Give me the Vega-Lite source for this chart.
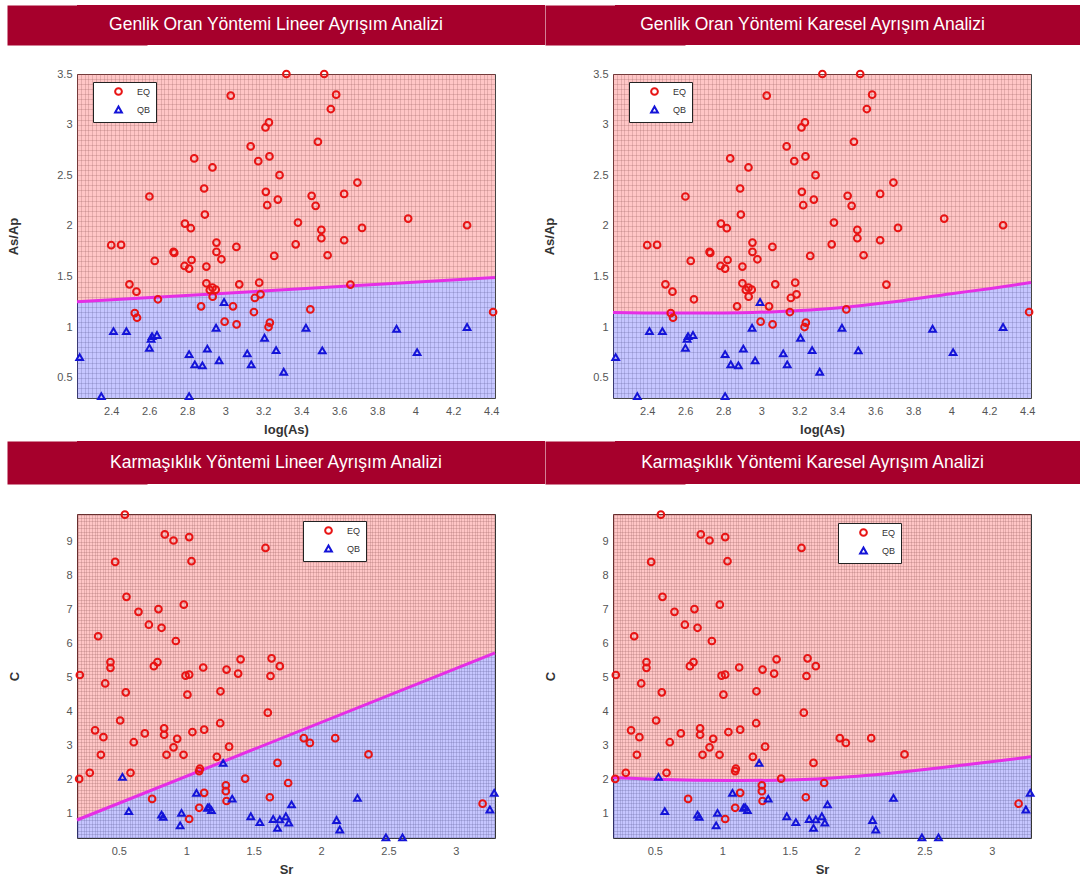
{
  "$schema": "https://vega.github.io/schema/vega-lite/v6.json",
  "padding": {"left": 7, "top": 5, "right": 4, "bottom": 4},
  "background": "white",
  "config": {
    "font": "Liberation Sans",
    "axis": {"labelFontSize": 11, "labelColor": "#555", "titleFontSize": 13, "titleFontWeight": "bold", "titleColor": "#333", "ticks": false, "domain": false, "grid": true, "gridColor": "#777", "gridOpacity": 0.38, "gridWidth": 0.7, "labelOverlap": false, "labelBound": false}
  },
  "datasets": {
    "top": [
      {"x":3.322,"y":3.5,"type":"EQ"},{"x":3.521,"y":3.5,"type":"EQ"},{"x":3.029,"y":3.286,"type":"EQ"},{"x":3.584,"y":3.296,"type":"EQ"},{"x":3.556,"y":3.154,"type":"EQ"},{"x":3.23,"y":3.022,"type":"EQ"},{"x":3.212,"y":2.972,"type":"EQ"},{"x":3.134,"y":2.785,"type":"EQ"},{"x":3.488,"y":2.831,"type":"EQ"},{"x":2.837,"y":2.666,"type":"EQ"},{"x":3.174,"y":2.639,"type":"EQ"},{"x":3.233,"y":2.686,"type":"EQ"},{"x":2.933,"y":2.577,"type":"EQ"},{"x":3.286,"y":2.501,"type":"EQ"},{"x":2.601,"y":2.29,"type":"EQ"},{"x":2.889,"y":2.369,"type":"EQ"},{"x":3.214,"y":2.336,"type":"EQ"},{"x":3.221,"y":2.204,"type":"EQ"},{"x":3.277,"y":2.26,"type":"EQ"},{"x":3.455,"y":2.297,"type":"EQ"},{"x":3.476,"y":2.198,"type":"EQ"},{"x":3.626,"y":2.316,"type":"EQ"},{"x":3.696,"y":2.428,"type":"EQ"},{"x":2.893,"y":2.112,"type":"EQ"},{"x":2.788,"y":2.023,"type":"EQ"},{"x":2.819,"y":1.977,"type":"EQ"},{"x":3.383,"y":2.033,"type":"EQ"},{"x":3.506,"y":1.96,"type":"EQ"},{"x":3.506,"y":1.878,"type":"EQ"},{"x":3.963,"y":2.072,"type":"EQ"},{"x":4.273,"y":2.006,"type":"EQ"},{"x":3.72,"y":1.98,"type":"EQ"},{"x":3.626,"y":1.858,"type":"EQ"},{"x":2.4,"y":1.809,"type":"EQ"},{"x":2.452,"y":1.812,"type":"EQ"},{"x":2.954,"y":1.835,"type":"EQ"},{"x":2.954,"y":1.743,"type":"EQ"},{"x":3.059,"y":1.792,"type":"EQ"},{"x":2.728,"y":1.743,"type":"EQ"},{"x":2.732,"y":1.733,"type":"EQ"},{"x":3.371,"y":1.818,"type":"EQ"},{"x":2.98,"y":1.67,"type":"EQ"},{"x":2.629,"y":1.654,"type":"EQ"},{"x":2.823,"y":1.663,"type":"EQ"},{"x":2.786,"y":1.604,"type":"EQ"},{"x":2.81,"y":1.578,"type":"EQ"},{"x":2.901,"y":1.598,"type":"EQ"},{"x":3.258,"y":1.703,"type":"EQ"},{"x":3.539,"y":1.71,"type":"EQ"},{"x":2.496,"y":1.423,"type":"EQ"},{"x":2.533,"y":1.35,"type":"EQ"},{"x":2.901,"y":1.433,"type":"EQ"},{"x":2.933,"y":1.39,"type":"EQ"},{"x":2.919,"y":1.367,"type":"EQ"},{"x":2.95,"y":1.37,"type":"EQ"},{"x":2.934,"y":1.301,"type":"EQ"},{"x":3.074,"y":1.423,"type":"EQ"},{"x":3.179,"y":1.439,"type":"EQ"},{"x":3.186,"y":1.324,"type":"EQ"},{"x":3.156,"y":1.288,"type":"EQ"},{"x":3.659,"y":1.42,"type":"EQ"},{"x":2.646,"y":1.275,"type":"EQ"},{"x":2.873,"y":1.205,"type":"EQ"},{"x":3.041,"y":1.205,"type":"EQ"},{"x":3.151,"y":1.149,"type":"EQ"},{"x":3.448,"y":1.175,"type":"EQ"},{"x":2.524,"y":1.139,"type":"EQ"},{"x":2.536,"y":1.093,"type":"EQ"},{"x":2.997,"y":1.054,"type":"EQ"},{"x":3.06,"y":1.027,"type":"EQ"},{"x":3.235,"y":1.044,"type":"EQ"},{"x":3.228,"y":1.001,"type":"EQ"},{"x":4.41,"y":1.149,"type":"EQ"},
      {"x":2.234,"y":0.704,"type":"QB"},{"x":2.348,"y":0.318,"type":"QB"},{"x":2.412,"y":0.961,"type":"QB"},{"x":2.48,"y":0.961,"type":"QB"},{"x":2.615,"y":0.912,"type":"QB"},{"x":2.641,"y":0.922,"type":"QB"},{"x":2.601,"y":0.796,"type":"QB"},{"x":2.61,"y":0.885,"type":"QB"},{"x":2.81,"y":0.734,"type":"QB"},{"x":2.84,"y":0.632,"type":"QB"},{"x":2.88,"y":0.622,"type":"QB"},{"x":2.906,"y":0.787,"type":"QB"},{"x":2.81,"y":0.318,"type":"QB"},{"x":2.952,"y":0.994,"type":"QB"},{"x":2.968,"y":0.671,"type":"QB"},{"x":2.994,"y":1.248,"type":"QB"},{"x":3.116,"y":0.74,"type":"QB"},{"x":3.137,"y":0.632,"type":"QB"},{"x":3.207,"y":0.895,"type":"QB"},{"x":3.268,"y":0.773,"type":"QB"},{"x":3.308,"y":0.559,"type":"QB"},{"x":3.425,"y":0.994,"type":"QB"},{"x":3.511,"y":0.77,"type":"QB"},{"x":3.902,"y":0.984,"type":"QB"},{"x":4.01,"y":0.754,"type":"QB"},{"x":4.273,"y":1.001,"type":"QB"}
    ],
    "bot": [
      {"x":0.545,"y":9.8,"type":"EQ"},{"x":0.841,"y":9.22,"type":"EQ"},{"x":0.906,"y":9.04,"type":"EQ"},{"x":1.022,"y":9.14,"type":"EQ"},{"x":1.588,"y":8.82,"type":"EQ"},{"x":0.473,"y":8.41,"type":"EQ"},{"x":1.039,"y":8.43,"type":"EQ"},{"x":0.557,"y":7.38,"type":"EQ"},{"x":0.646,"y":6.94,"type":"EQ"},{"x":0.794,"y":7.02,"type":"EQ"},{"x":0.982,"y":7.15,"type":"EQ"},{"x":0.723,"y":6.56,"type":"EQ"},{"x":0.817,"y":6.47,"type":"EQ"},{"x":0.347,"y":6.22,"type":"EQ"},{"x":0.923,"y":6.08,"type":"EQ"},{"x":0.438,"y":5.46,"type":"EQ"},{"x":0.438,"y":5.29,"type":"EQ"},{"x":0.76,"y":5.34,"type":"EQ"},{"x":0.787,"y":5.46,"type":"EQ"},{"x":0.211,"y":5.08,"type":"EQ"},{"x":0.399,"y":4.83,"type":"EQ"},{"x":0.995,"y":5.06,"type":"EQ"},{"x":1.022,"y":5.09,"type":"EQ"},{"x":1.126,"y":5.3,"type":"EQ"},{"x":1.299,"y":5.24,"type":"EQ"},{"x":1.385,"y":5.12,"type":"EQ"},{"x":1.403,"y":5.54,"type":"EQ"},{"x":1.633,"y":5.57,"type":"EQ"},{"x":1.694,"y":5.34,"type":"EQ"},{"x":1.625,"y":5.05,"type":"EQ"},{"x":0.552,"y":4.57,"type":"EQ"},{"x":1.009,"y":4.5,"type":"EQ"},{"x":1.254,"y":4.6,"type":"EQ"},{"x":1.605,"y":3.97,"type":"EQ"},{"x":0.51,"y":3.74,"type":"EQ"},{"x":0.324,"y":3.45,"type":"EQ"},{"x":0.386,"y":3.25,"type":"EQ"},{"x":0.367,"y":2.73,"type":"EQ"},{"x":0.693,"y":3.36,"type":"EQ"},{"x":0.611,"y":3.1,"type":"EQ"},{"x":0.836,"y":3.51,"type":"EQ"},{"x":0.836,"y":3.32,"type":"EQ"},{"x":0.933,"y":3.2,"type":"EQ"},{"x":0.906,"y":2.95,"type":"EQ"},{"x":0.854,"y":2.73,"type":"EQ"},{"x":0.98,"y":2.73,"type":"EQ"},{"x":1.046,"y":3.4,"type":"EQ"},{"x":1.133,"y":3.47,"type":"EQ"},{"x":1.252,"y":3.66,"type":"EQ"},{"x":1.318,"y":2.97,"type":"EQ"},{"x":1.227,"y":2.67,"type":"EQ"},{"x":0.206,"y":2.02,"type":"EQ"},{"x":0.285,"y":2.2,"type":"EQ"},{"x":0.587,"y":2.2,"type":"EQ"},{"x":1.101,"y":2.32,"type":"EQ"},{"x":1.096,"y":2.25,"type":"EQ"},{"x":1.437,"y":2.03,"type":"EQ"},{"x":1.677,"y":2.49,"type":"EQ"},{"x":1.756,"y":1.9,"type":"EQ"},{"x":0.747,"y":1.43,"type":"EQ"},{"x":1.133,"y":1.61,"type":"EQ"},{"x":1.096,"y":1.17,"type":"EQ"},{"x":1.022,"y":0.84,"type":"EQ"},{"x":1.294,"y":1.83,"type":"EQ"},{"x":1.294,"y":1.66,"type":"EQ"},{"x":1.299,"y":1.37,"type":"EQ"},{"x":1.62,"y":1.48,"type":"EQ"},{"x":1.872,"y":3.22,"type":"EQ"},{"x":1.917,"y":3.08,"type":"EQ"},{"x":2.105,"y":3.22,"type":"EQ"},{"x":2.352,"y":2.74,"type":"EQ"},{"x":3.198,"y":1.29,"type":"EQ"},
      {"x":0.527,"y":2.08,"type":"QB"},{"x":0.574,"y":1.07,"type":"QB"},{"x":0.817,"y":0.97,"type":"QB"},{"x":0.829,"y":0.9,"type":"QB"},{"x":0.965,"y":1.02,"type":"QB"},{"x":0.955,"y":0.65,"type":"QB"},{"x":1.076,"y":1.61,"type":"QB"},{"x":1.158,"y":1.17,"type":"QB"},{"x":1.187,"y":1.1,"type":"QB"},{"x":1.17,"y":1.19,"type":"QB"},{"x":1.274,"y":2.49,"type":"QB"},{"x":1.341,"y":1.44,"type":"QB"},{"x":1.479,"y":0.92,"type":"QB"},{"x":1.546,"y":0.75,"type":"QB"},{"x":1.645,"y":0.84,"type":"QB"},{"x":1.677,"y":0.58,"type":"QB"},{"x":1.694,"y":0.83,"type":"QB"},{"x":1.739,"y":0.92,"type":"QB"},{"x":1.761,"y":0.73,"type":"QB"},{"x":1.781,"y":1.27,"type":"QB"},{"x":2.115,"y":0.81,"type":"QB"},{"x":2.139,"y":0.53,"type":"QB"},{"x":2.27,"y":1.46,"type":"QB"},{"x":2.481,"y":0.3,"type":"QB"},{"x":2.604,"y":0.3,"type":"QB"},{"x":3.252,"y":1.12,"type":"QB"},{"x":3.284,"y":1.61,"type":"QB"}
    ],
    "b1": [{"x":2.22,"y":1.25},{"x":4.42,"y":1.49}],
    "b2": [{"x":2.22,"y":1.145},{"x":2.5,"y":1.14},{"x":2.8,"y":1.14},{"x":3.1,"y":1.155},{"x":3.4,"y":1.19},{"x":3.7,"y":1.25},{"x":4.0,"y":1.33},{"x":4.2,"y":1.38},{"x":4.42,"y":1.44}],
    "b3": [{"x":0.19,"y":0.81},{"x":3.29,"y":5.73}],
    "b4": [{"x":0.19,"y":2.06},{"x":0.5,"y":2.01},{"x":0.8,"y":1.98},{"x":1.1,"y":1.97},{"x":1.4,"y":1.98},{"x":1.7,"y":2.02},{"x":2.0,"y":2.1},{"x":2.3,"y":2.21},{"x":2.6,"y":2.34},{"x":2.9,"y":2.48},{"x":3.29,"y":2.67}]
  },
  "resolve": {"scale": {"color": "independent", "shape": "independent"}},
  "spacing": 4,
  "vconcat": [
    {
      "resolve": {"scale": {"color": "independent", "shape": "independent"}},
      "spacing": 21,
      "vconcat": [
        {
          "spacing": 70,
          "hconcat": [
            {"width": 468, "height": 40, "view": {"fill": "#a6002c", "stroke": null}, "data": {"values": [{"t": "Genlik Oran  Yöntemi Lineer Ayrışım Analizi"}]}, "mark": {"type": "text", "color": "white", "fontSize": 17.5, "dx": -35}, "encoding": {"text": {"field": "t"}, "y": {"field": "t", "type": "nominal", "title": null, "axis": {"labels": false, "ticks": false, "grid": false, "domain": true, "domainColor": "#a6002c", "domainWidth": 140, "domainCap": "butt", "title": null}}}},
            {"width": 465, "height": 40, "view": {"fill": "#a6002c", "stroke": null}, "data": {"values": [{"t": "Genlik Oran Yöntemi Karesel Ayrışım Analizi"}]}, "mark": {"type": "text", "color": "white", "fontSize": 17.5, "dx": -35}, "encoding": {"text": {"field": "t"}, "y": {"field": "t", "type": "nominal", "title": null, "axis": {"labels": false, "ticks": false, "grid": false, "domain": true, "domainColor": "#a6002c", "domainWidth": 140, "domainCap": "butt", "title": null}}}}
          ]
        },
        {
          "resolve": {"scale": {"color": "independent", "shape": "independent"}},
          "spacing": 41,
          "hconcat": [
            {
              "width": 418, "height": 324, "view": {"stroke": "#333", "strokeWidth": 1},
              "layer": [
                {"data": {"name": "b1"}, "mark": {"type": "area", "color": "#ff1a1a", "opacity": 0.25}, "encoding": {
                  "x": {"field": "x", "type": "quantitative", "title": "log(As)", "scale": {"domain": [2.22, 4.42], "nice": false, "zero": false}, "axis": {"tickCount": 110, "labelPadding": 7, "titlePadding": 7, "labelExpr": "abs(datum.value*5 - round(datum.value*5)) < 0.001 ? format(datum.value, '~g') : ''"}},
                  "y": {"field": "y", "type": "quantitative", "title": "As/Ap", "scale": {"domain": [0.3, 3.5], "nice": false, "zero": false}, "axis": {"tickCount": 64, "labelPadding": 5, "titlePadding": 36, "labelExpr": "abs(datum.value*2 - round(datum.value*2)) < 0.001 ? format(datum.value, '~g') : ''"}},
                  "y2": {"datum": 3.5}}},
                {"data": {"name": "b1"}, "mark": {"type": "area", "color": "#1a1aff", "opacity": 0.25}, "encoding": {
                  "x": {"field": "x", "type": "quantitative", "title": "log(As)"},
                  "y": {"field": "y", "type": "quantitative", "title": "As/Ap"},
                  "y2": {"datum": 0.3}}},
                {"data": {"name": "b1"}, "mark": {"type": "line", "color": "#e52ee5", "strokeWidth": 3}, "encoding": {
                  "x": {"field": "x", "type": "quantitative", "title": "log(As)"},
                  "y": {"field": "y", "type": "quantitative", "title": "As/Ap"}}},
                {"data": {"name": "top"}, "mark": {"type": "point", "filled": false, "strokeWidth": 2, "size": 45, "opacity": 1}, "encoding": {
                  "x": {"field": "x", "type": "quantitative", "title": "log(As)"},
                  "y": {"field": "y", "type": "quantitative", "title": "As/Ap"},
                  "color": {"field": "type", "type": "nominal", "scale": {"domain": ["EQ", "QB"], "range": ["#e81414", "#1414d8"]}, "legend": {"title": null, "orient": "none", "legendX": 16, "legendY": 8, "strokeColor": "#222", "fillColor": "white", "padding": 5, "symbolOffset": 16, "labelOffset": 14, "labelFontSize": 9, "labelColor": "#333", "symbolStrokeWidth": 2, "symbolSize": 45, "rowPadding": 3}},
                  "shape": {"field": "type", "type": "nominal", "scale": {"domain": ["EQ", "QB"], "range": ["circle", "triangle-up"]}, "legend": {"title": null, "orient": "none", "legendX": 16, "legendY": 8, "strokeColor": "#222", "fillColor": "white", "padding": 5, "symbolOffset": 16, "labelOffset": 14, "labelFontSize": 9, "labelColor": "#333", "symbolStrokeWidth": 2, "symbolSize": 45, "rowPadding": 3}}}}
              ]
            },
            {
              "width": 418, "height": 324, "view": {"stroke": "#333", "strokeWidth": 1},
              "layer": [
                {"data": {"name": "b2"}, "mark": {"type": "area", "color": "#ff1a1a", "opacity": 0.25, "interpolate": "monotone"}, "encoding": {
                  "x": {"field": "x", "type": "quantitative", "title": "log(As)", "scale": {"domain": [2.22, 4.42], "nice": false, "zero": false}, "axis": {"tickCount": 110, "labelPadding": 7, "titlePadding": 7, "labelExpr": "abs(datum.value*5 - round(datum.value*5)) < 0.001 ? format(datum.value, '~g') : ''"}},
                  "y": {"field": "y", "type": "quantitative", "title": "As/Ap", "scale": {"domain": [0.3, 3.5], "nice": false, "zero": false}, "axis": {"tickCount": 64, "labelPadding": 5, "titlePadding": 36, "labelExpr": "abs(datum.value*2 - round(datum.value*2)) < 0.001 ? format(datum.value, '~g') : ''"}},
                  "y2": {"datum": 3.5}}},
                {"data": {"name": "b2"}, "mark": {"type": "area", "color": "#1a1aff", "opacity": 0.25, "interpolate": "monotone"}, "encoding": {
                  "x": {"field": "x", "type": "quantitative", "title": "log(As)"},
                  "y": {"field": "y", "type": "quantitative", "title": "As/Ap"},
                  "y2": {"datum": 0.3}}},
                {"data": {"name": "b2"}, "mark": {"type": "line", "color": "#e52ee5", "strokeWidth": 3, "interpolate": "monotone"}, "encoding": {
                  "x": {"field": "x", "type": "quantitative", "title": "log(As)"},
                  "y": {"field": "y", "type": "quantitative", "title": "As/Ap"}}},
                {"data": {"name": "top"}, "mark": {"type": "point", "filled": false, "strokeWidth": 2, "size": 45, "opacity": 1}, "encoding": {
                  "x": {"field": "x", "type": "quantitative", "title": "log(As)"},
                  "y": {"field": "y", "type": "quantitative", "title": "As/Ap"},
                  "color": {"field": "type", "type": "nominal", "scale": {"domain": ["EQ", "QB"], "range": ["#e81414", "#1414d8"]}, "legend": {"title": null, "orient": "none", "legendX": 16, "legendY": 8, "strokeColor": "#222", "fillColor": "white", "padding": 5, "symbolOffset": 16, "labelOffset": 14, "labelFontSize": 9, "labelColor": "#333", "symbolStrokeWidth": 2, "symbolSize": 45, "rowPadding": 3}},
                  "shape": {"field": "type", "type": "nominal", "scale": {"domain": ["EQ", "QB"], "range": ["circle", "triangle-up"]}, "legend": {"title": null, "orient": "none", "legendX": 16, "legendY": 8, "strokeColor": "#222", "fillColor": "white", "padding": 5, "symbolOffset": 16, "labelOffset": 14, "labelFontSize": 9, "labelColor": "#333", "symbolStrokeWidth": 2, "symbolSize": 45, "rowPadding": 3}}}}
              ]
            }
          ]
        }
      ]
    },
    {
      "resolve": {"scale": {"color": "independent", "shape": "independent"}},
      "spacing": 22,
      "vconcat": [
        {
          "spacing": 70,
          "hconcat": [
            {"width": 468, "height": 43, "view": {"fill": "#a6002c", "stroke": null}, "data": {"values": [{"t": "Karmaşıklık Yöntemi Lineer Ayrışım Analizi"}]}, "mark": {"type": "text", "color": "white", "fontSize": 17.5, "dx": -35}, "encoding": {"text": {"field": "t"}, "y": {"field": "t", "type": "nominal", "title": null, "axis": {"labels": false, "ticks": false, "grid": false, "domain": true, "domainColor": "#a6002c", "domainWidth": 140, "domainCap": "butt", "title": null}}}},
            {"width": 465, "height": 43, "view": {"fill": "#a6002c", "stroke": null}, "data": {"values": [{"t": "Karmaşıklık Yöntemi Karesel Ayrışım Analizi"}]}, "mark": {"type": "text", "color": "white", "fontSize": 17.5, "dx": -35}, "encoding": {"text": {"field": "t"}, "y": {"field": "t", "type": "nominal", "title": null, "axis": {"labels": false, "ticks": false, "grid": false, "domain": true, "domainColor": "#a6002c", "domainWidth": 140, "domainCap": "butt", "title": null}}}}
          ]
        },
        {
          "resolve": {"scale": {"color": "independent", "shape": "independent"}},
          "spacing": 41,
          "hconcat": [
            {
              "width": 418, "height": 324, "view": {"stroke": "#333", "strokeWidth": 1},
              "layer": [
                {"data": {"name": "b3"}, "mark": {"type": "area", "color": "#ff1a1a", "opacity": 0.25}, "encoding": {
                  "x": {"field": "x", "type": "quantitative", "title": "Sr", "scale": {"domain": [0.19, 3.29], "nice": false, "zero": false}, "axis": {"tickCount": 100, "labelPadding": 7, "titlePadding": 7, "labelExpr": "abs(datum.value*2 - round(datum.value*2)) < 0.001 ? format(datum.value, '~g') : ''"}},
                  "y": {"field": "y", "type": "quantitative", "title": "C", "scale": {"domain": [0.28, 9.82], "nice": false, "zero": false}, "axis": {"tickCount": 95, "labelPadding": 5, "titlePadding": 44, "labelExpr": "abs(datum.value - round(datum.value)) < 0.001 ? format(datum.value, '~g') : ''"}},
                  "y2": {"datum": 9.82}}},
                {"data": {"name": "b3"}, "mark": {"type": "area", "color": "#1a1aff", "opacity": 0.25}, "encoding": {
                  "x": {"field": "x", "type": "quantitative", "title": "Sr"},
                  "y": {"field": "y", "type": "quantitative", "title": "C"},
                  "y2": {"datum": 0.28}}},
                {"data": {"name": "b3"}, "mark": {"type": "line", "color": "#e52ee5", "strokeWidth": 3}, "encoding": {
                  "x": {"field": "x", "type": "quantitative", "title": "Sr"},
                  "y": {"field": "y", "type": "quantitative", "title": "C"}}},
                {"data": {"name": "bot"}, "mark": {"type": "point", "filled": false, "strokeWidth": 2, "size": 45, "opacity": 1}, "encoding": {
                  "x": {"field": "x", "type": "quantitative", "title": "Sr"},
                  "y": {"field": "y", "type": "quantitative", "title": "C"},
                  "color": {"field": "type", "type": "nominal", "scale": {"domain": ["EQ", "QB"], "range": ["#e81414", "#1414d8"]}, "legend": {"title": null, "orient": "none", "legendX": 226, "legendY": 7, "strokeColor": "#222", "fillColor": "white", "padding": 5, "symbolOffset": 16, "labelOffset": 14, "labelFontSize": 9, "labelColor": "#333", "symbolStrokeWidth": 2, "symbolSize": 45, "rowPadding": 3}},
                  "shape": {"field": "type", "type": "nominal", "scale": {"domain": ["EQ", "QB"], "range": ["circle", "triangle-up"]}, "legend": {"title": null, "orient": "none", "legendX": 226, "legendY": 7, "strokeColor": "#222", "fillColor": "white", "padding": 5, "symbolOffset": 16, "labelOffset": 14, "labelFontSize": 9, "labelColor": "#333", "symbolStrokeWidth": 2, "symbolSize": 45, "rowPadding": 3}}}}
              ]
            },
            {
              "width": 418, "height": 324, "view": {"stroke": "#333", "strokeWidth": 1},
              "layer": [
                {"data": {"name": "b4"}, "mark": {"type": "area", "color": "#ff1a1a", "opacity": 0.25, "interpolate": "monotone"}, "encoding": {
                  "x": {"field": "x", "type": "quantitative", "title": "Sr", "scale": {"domain": [0.19, 3.29], "nice": false, "zero": false}, "axis": {"tickCount": 100, "labelPadding": 7, "titlePadding": 7, "labelExpr": "abs(datum.value*2 - round(datum.value*2)) < 0.001 ? format(datum.value, '~g') : ''"}},
                  "y": {"field": "y", "type": "quantitative", "title": "C", "scale": {"domain": [0.28, 9.82], "nice": false, "zero": false}, "axis": {"tickCount": 95, "labelPadding": 5, "titlePadding": 44, "labelExpr": "abs(datum.value - round(datum.value)) < 0.001 ? format(datum.value, '~g') : ''"}},
                  "y2": {"datum": 9.82}}},
                {"data": {"name": "b4"}, "mark": {"type": "area", "color": "#1a1aff", "opacity": 0.25, "interpolate": "monotone"}, "encoding": {
                  "x": {"field": "x", "type": "quantitative", "title": "Sr"},
                  "y": {"field": "y", "type": "quantitative", "title": "C"},
                  "y2": {"datum": 0.28}}},
                {"data": {"name": "b4"}, "mark": {"type": "line", "color": "#e52ee5", "strokeWidth": 3, "interpolate": "monotone"}, "encoding": {
                  "x": {"field": "x", "type": "quantitative", "title": "Sr"},
                  "y": {"field": "y", "type": "quantitative", "title": "C"}}},
                {"data": {"name": "bot"}, "mark": {"type": "point", "filled": false, "strokeWidth": 2, "size": 45, "opacity": 1}, "encoding": {
                  "x": {"field": "x", "type": "quantitative", "title": "Sr"},
                  "y": {"field": "y", "type": "quantitative", "title": "C"},
                  "color": {"field": "type", "type": "nominal", "scale": {"domain": ["EQ", "QB"], "range": ["#e81414", "#1414d8"]}, "legend": {"title": null, "orient": "none", "legendX": 225, "legendY": 9, "strokeColor": "#222", "fillColor": "white", "padding": 5, "symbolOffset": 16, "labelOffset": 14, "labelFontSize": 9, "labelColor": "#333", "symbolStrokeWidth": 2, "symbolSize": 45, "rowPadding": 3}},
                  "shape": {"field": "type", "type": "nominal", "scale": {"domain": ["EQ", "QB"], "range": ["circle", "triangle-up"]}, "legend": {"title": null, "orient": "none", "legendX": 225, "legendY": 9, "strokeColor": "#222", "fillColor": "white", "padding": 5, "symbolOffset": 16, "labelOffset": 14, "labelFontSize": 9, "labelColor": "#333", "symbolStrokeWidth": 2, "symbolSize": 45, "rowPadding": 3}}}}
              ]
            }
          ]
        }
      ]
    }
  ]
}
